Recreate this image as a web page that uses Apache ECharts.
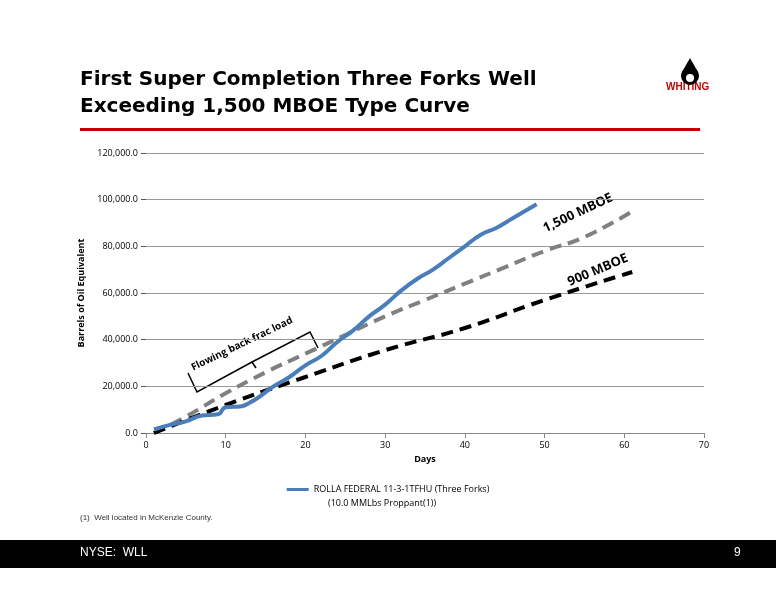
<!DOCTYPE html><html><head><meta charset="utf-8"><script src="https://cdn.jsdelivr.net/npm/echarts@6/dist/echarts.min.js"></script>
<style>body{margin:0}#c{width:776px;height:600px}</style></head><body><div id="c"></div><script>
const blueDays=[1,3,5,7,9,10,12,13,14,16,18,20,22,24,26,28,30,32,34,36,38,40,42,44,46,49];
const blueVals=[1500,3500,5000,7500,8000,11000,11500,13000,15000,20000,24000,29000,33000,39000,44000,50000,55000,61000,66000,70000,75000,80000,85000,88000,92000,98000];
const g1500Days=[1,5,10,15,20,25,30,35,40,45,50,55,61];
const g1500Vals=[0,7000,17000,26000,34000,42000,50000,57000,64000,71000,78000,84000,95000];
const b900Days=[1,10,20,30,40,50,61];
const b900Vals=[0,12000,24000,35500,45000,57000,69000];
const yTicks=[0,20000,40000,60000,80000,100000,120000];
const zip=(a,b)=>a.map((d,i)=>[d,b[i]]);
const ch=echarts.init(document.getElementById('c'));
ch.setOption({
animation:false,
grid:{left:146,right:72,top:153,bottom:167},
xAxis:{type:'value',min:0,max:70,interval:10,name:'Days',nameLocation:'middle',nameGap:22,nameTextStyle:{fontFamily:'Open Sans',fontSize:9,fontWeight:'bold',color:'#000'},axisLine:{lineStyle:{color:'#888'}},axisTick:{show:true},axisLabel:{fontFamily:'Open Sans',fontSize:9,color:'#000'},splitLine:{show:false}},
yAxis:{type:'value',min:0,max:120000,interval:20000,name:'Barrels of Oil Equivalent',nameLocation:'middle',nameGap:54,nameTextStyle:{fontFamily:'Open Sans',fontSize:9,fontWeight:'bold',color:'#000'},axisLine:{show:false},axisLabel:{fontFamily:'Open Sans',fontSize:9,color:'#000',formatter:v=>v.toLocaleString('en-US')+'.0'},splitLine:{lineStyle:{color:'#999'}}},
series:[
{type:'line',data:zip(g1500Days,g1500Vals),showSymbol:false,smooth:true,lineStyle:{color:'#808080',width:4,type:[12,7]},z:2},
{type:'line',data:zip(b900Days,b900Vals),showSymbol:false,smooth:true,lineStyle:{color:'#000',width:4,type:[12,7]},z:2},
{type:'line',name:'ROLLA FEDERAL 11-3-1TFHU (Three Forks)',data:zip(blueDays,blueVals),showSymbol:false,smooth:true,lineStyle:{color:'#4a7ebb',width:4},itemStyle:{color:'#4a7ebb'},z:3}
],
legend:{data:['ROLLA FEDERAL 11-3-1TFHU (Three Forks)'],bottom:101,left:'center',itemWidth:22,itemHeight:3,icon:'rect',textStyle:{fontFamily:'Open Sans',fontSize:9,color:'#000'}},
graphic:[
{type:'text',x:80,y:66,style:{text:'First Super Completion Three Forks Well\nExceeding 1,500 MBOE Type Curve',font:'bold 20px "DejaVu Sans"',fill:'#000',lineHeight:27}},
{type:'rect',shape:{x:80,y:128,width:620,height:3},style:{fill:'#c00000'}},
{type:'text',x:666,y:82,style:{text:'WHITING',font:'bold 10px "Liberation Sans"',fill:'#c00000'}},
{type:'circle',shape:{cx:690,cy:76,r:9},style:{fill:'#000'}},
{type:'polygon',shape:{points:[[690,58],[682,72],[698,72]]},style:{fill:'#000'}},
{type:'circle',shape:{cx:690,cy:78,r:4},style:{fill:'#fff'}},
{type:'text',x:328,y:499,style:{text:'(10.0 MMLbs Proppant(1))',font:'9px "Open Sans"',fill:'#000'}},
{type:'text',x:80,y:514,style:{text:'(1)  Well located in McKenzie County.',font:'8px "Liberation Sans"',fill:'#333'}},
{type:'rect',shape:{x:0,y:540,width:776,height:28},style:{fill:'#000'}},
{type:'text',x:80,y:547,style:{text:'NYSE:  WLL',font:'12px "Liberation Sans"',fill:'#fff'}},
{type:'text',x:734,y:547,style:{text:'9',font:'12px "Liberation Sans"',fill:'#fff'}},
{type:'text',x:578,y:213,rotation:0.44,style:{text:'1,500 MBOE',font:'bold 13px "Open Sans"',fill:'#000',align:'center',verticalAlign:'middle'}},
{type:'text',x:598,y:270,rotation:0.40,style:{text:'900 MBOE',font:'bold 13px "Open Sans"',fill:'#000',align:'center',verticalAlign:'middle'}},
{type:'text',x:242,y:344,rotation:0.45,style:{text:'Flowing back frac load',font:'bold 10px "Open Sans"',fill:'#000',align:'center',verticalAlign:'middle'}},
{type:'polyline',shape:{points:[[188,373],[197,392],[252,362],[310,332],[318,348]]},style:{stroke:'#000',lineWidth:1.5,fill:'none'}},
{type:'line',shape:{x1:252,y1:362,x2:256,y2:368},style:{stroke:'#000',lineWidth:1.5}}
]});
</script></body></html>
